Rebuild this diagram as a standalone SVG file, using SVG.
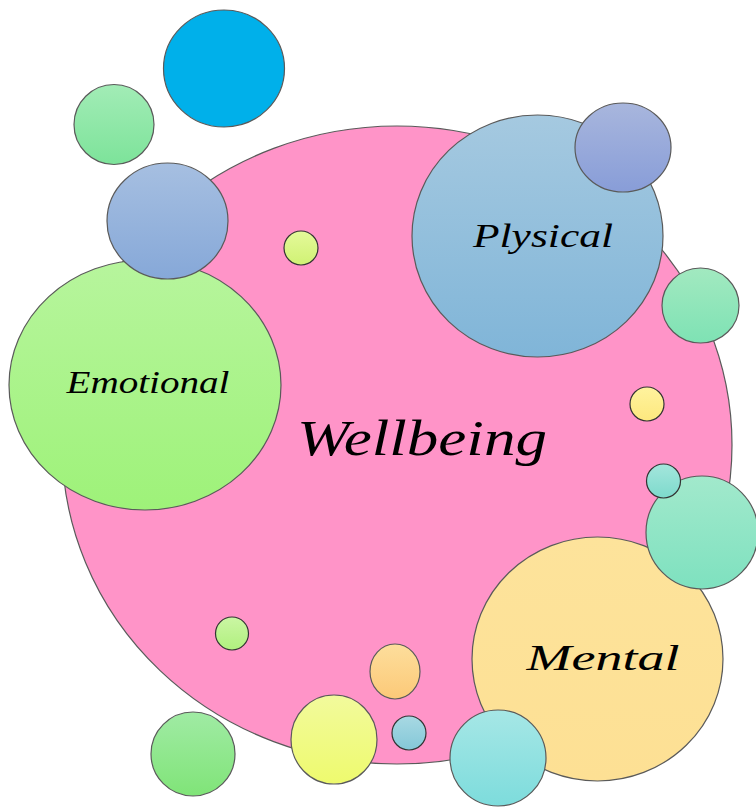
<svg xmlns="http://www.w3.org/2000/svg" width="756" height="810" viewBox="0 0 756 810">
  <defs>
    <linearGradient id="gGreenA" x1="0" y1="0" x2="0" y2="1"><stop offset="0" stop-color="#a2ecb6"/><stop offset="1" stop-color="#7de39a"/></linearGradient>
    <linearGradient id="gSteel" x1="0" y1="0" x2="0" y2="1"><stop offset="0" stop-color="#a6bfe1"/><stop offset="1" stop-color="#86a8d8"/></linearGradient>
    <linearGradient id="gLime" x1="0" y1="0" x2="0" y2="1"><stop offset="0" stop-color="#e4f99a"/><stop offset="1" stop-color="#d0f274"/></linearGradient>
    <linearGradient id="gEmo" x1="0" y1="0" x2="0" y2="1"><stop offset="0" stop-color="#b7f59d"/><stop offset="1" stop-color="#9ef279"/></linearGradient>
    <linearGradient id="gPhys" x1="0" y1="0" x2="0" y2="1"><stop offset="0" stop-color="#a5c9e0"/><stop offset="1" stop-color="#80b5d8"/></linearGradient>
    <linearGradient id="gLav" x1="0" y1="0" x2="0" y2="1"><stop offset="0" stop-color="#a8b6dd"/><stop offset="1" stop-color="#889dd8"/></linearGradient>
    <linearGradient id="gMint" x1="0" y1="0" x2="0" y2="1"><stop offset="0" stop-color="#a2e9c0"/><stop offset="1" stop-color="#7ee2b4"/></linearGradient>
    <linearGradient id="gLemon" x1="0" y1="0" x2="0" y2="1"><stop offset="0" stop-color="#fff39e"/><stop offset="1" stop-color="#fde87e"/></linearGradient>
    <linearGradient id="gAqua" x1="0" y1="0" x2="0" y2="1"><stop offset="0" stop-color="#a4e6dc"/><stop offset="1" stop-color="#7ddacc"/></linearGradient>
    <linearGradient id="gSea" x1="0" y1="0" x2="0" y2="1"><stop offset="0" stop-color="#a2e9cc"/><stop offset="1" stop-color="#7ee1bf"/></linearGradient>
    <linearGradient id="gMental" x1="0" y1="0" x2="0" y2="1"><stop offset="0" stop-color="#fde39b"/><stop offset="1" stop-color="#fde094"/></linearGradient>
    <linearGradient id="gCyan" x1="0" y1="0" x2="0" y2="1"><stop offset="0" stop-color="#a6e7e6"/><stop offset="1" stop-color="#7ddcdc"/></linearGradient>
    <linearGradient id="gSprout" x1="0" y1="0" x2="0" y2="1"><stop offset="0" stop-color="#cbf6a4"/><stop offset="1" stop-color="#b0f07e"/></linearGradient>
    <linearGradient id="gPeach" x1="0" y1="0" x2="0" y2="1"><stop offset="0" stop-color="#fdde9c"/><stop offset="1" stop-color="#fcc978"/></linearGradient>
    <linearGradient id="gButter" x1="0" y1="0" x2="0" y2="1"><stop offset="0" stop-color="#f2fa9c"/><stop offset="1" stop-color="#eefa6e"/></linearGradient>
    <linearGradient id="gSky" x1="0" y1="0" x2="0" y2="1"><stop offset="0" stop-color="#a8d9e3"/><stop offset="1" stop-color="#84c8d8"/></linearGradient>
    <linearGradient id="gLeaf" x1="0" y1="0" x2="0" y2="1"><stop offset="0" stop-color="#a0eba4"/><stop offset="1" stop-color="#80e478"/></linearGradient>
  </defs>
  <style>
    .b { stroke: #5a5a5a; stroke-width: 1.2; }
    .s { stroke: #333333; stroke-width: 1.2; }
    .t { font-family: "Liberation Serif", "DejaVu Serif", serif; font-style: italic; fill: #000000; text-anchor: middle; }
  </style>

  <!-- central bubble -->
  <g id="wellbeing">
    <ellipse cx="397" cy="445" rx="335" ry="319" fill="#ff94c8" class="b"/>
    <text class="t" x="422" y="455" font-size="50" textLength="250" lengthAdjust="spacingAndGlyphs">Wellbeing</text>
  </g>

  <!-- floating bubbles, upper left -->
  <g id="bubble-blue"><ellipse cx="224" cy="68.5" rx="60.5" ry="58.5" fill="#00b0ea" class="b"/></g>
  <g id="bubble-green-top"><circle cx="114" cy="124.5" r="40" fill="url(#gGreenA)" class="b"/></g>
  <g id="bubble-lime"><circle cx="301" cy="248" r="17" fill="url(#gLime)" class="s"/></g>

  <!-- Emotional -->
  <g id="emotional">
    <ellipse cx="145" cy="385" rx="136" ry="125" fill="url(#gEmo)" class="b"/>
    <text class="t" x="148" y="393" font-size="31" textLength="163" lengthAdjust="spacingAndGlyphs">Emotional</text>
  </g>
  <g id="bubble-steel"><ellipse cx="167.5" cy="221" rx="60.5" ry="58" fill="url(#gSteel)" class="b"/></g>

  <!-- Physical -->
  <g id="physical">
    <ellipse cx="537.5" cy="236" rx="125.5" ry="121" fill="url(#gPhys)" class="b"/>
    <text class="t" x="543" y="247" font-size="33" textLength="140" lengthAdjust="spacingAndGlyphs">Plysical</text>
  </g>
  <g id="bubble-lavender"><ellipse cx="623" cy="147.5" rx="48" ry="44.5" fill="url(#gLav)" class="b"/></g>
  <g id="bubble-mint"><ellipse cx="700.5" cy="305.5" rx="38.5" ry="37.5" fill="url(#gMint)" class="b"/></g>
  <g id="bubble-lemon"><circle cx="647" cy="404" r="17" fill="url(#gLemon)" class="s"/></g>

  <!-- Mental -->
  <g id="mental">
    <ellipse cx="597.5" cy="659" rx="125.5" ry="122" fill="url(#gMental)" class="b"/>
    <text class="t" x="603" y="670" font-size="36" textLength="153" lengthAdjust="spacingAndGlyphs">Mental</text>
  </g>
  <g id="bubble-sea"><ellipse cx="702" cy="532.5" rx="56" ry="56.5" fill="url(#gSea)" class="b"/></g>
  <g id="bubble-aqua"><circle cx="663.5" cy="481" r="17" fill="url(#gAqua)" class="s"/></g>

  <!-- lower bubbles -->
  <g id="bubble-sprout"><circle cx="232" cy="633.5" r="16.5" fill="url(#gSprout)" class="s"/></g>
  <g id="bubble-peach"><ellipse cx="395" cy="671.5" rx="25" ry="27.5" fill="url(#gPeach)" class="b"/></g>
  <g id="bubble-butter"><ellipse cx="334" cy="739.5" rx="43" ry="44.5" fill="url(#gButter)" class="b"/></g>
  <g id="bubble-sky"><circle cx="409" cy="733" r="17" fill="url(#gSky)" class="s"/></g>
  <g id="bubble-leaf"><circle cx="193" cy="754" r="42" fill="url(#gLeaf)" class="b"/></g>
  <g id="bubble-cyan"><ellipse cx="498" cy="758" rx="48" ry="48" fill="url(#gCyan)" class="b"/></g>

  <!-- no connectors in this diagram -->
  <g id="connectors"/>
</svg>
